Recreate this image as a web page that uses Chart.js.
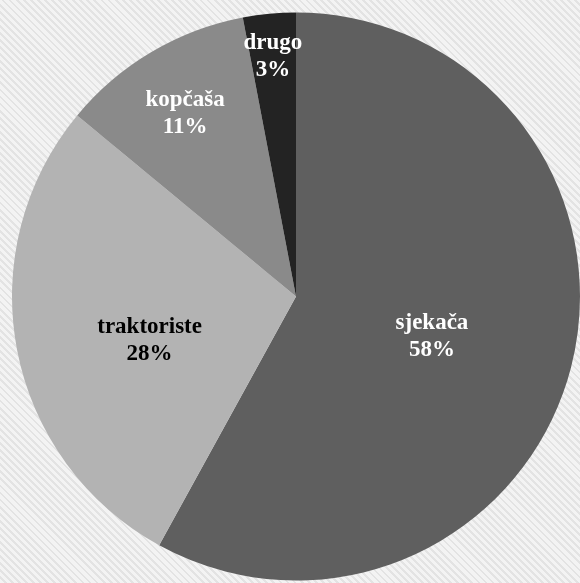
<!DOCTYPE html>
<html>
<head>
<meta charset="utf-8">
<script src="https://cdn.jsdelivr.net/npm/chart.js@4"></script>
<style>
  html, body {
    margin: 0;
    padding: 0;
  }
  body {
    width: 580px;
    height: 583px;
    overflow: hidden;
    background: repeating-linear-gradient(45deg, #f3f3f3 0px, #f3f3f3 3px, #e3e3e3 3px, #e3e3e3 5px);
  }
  #grafico {
    display: block;
  }
</style>
</head>
<body>
<canvas id="grafico" width="580" height="583"></canvas>
<script>
//dados do grafico
var categorias = ['sjekača', 'traktoriste', 'kopčaša', 'drugo'];
var valores = [58, 28, 11, 3];

//cores das fatias e dos rotulos
var cores = ['#5f5f5f', '#b3b3b3', '#8a8a8a', '#232323'];
var coresTexto = ['#ffffff', '#000000', '#ffffff', '#ffffff'];

//posicao dos rotulos (fracao do raio e desvio do angulo em graus)
var rotuloRaio = [0.50, 0.539, 0.752, 0.847];
var rotuloDesvio = [2.4, -6.2, -0.7, -0.1];

var total = valores.reduce(function (a, b) { return a + b; }, 0);

//plugin simples para escrever os rotulos dentro das fatias
var rotulos = {
    id: 'rotulos',
    afterDatasetsDraw: function (chart) {
        var ctx = chart.ctx;
        var meta = chart.getDatasetMeta(0);
        ctx.save();
        ctx.font = 'bold 23px "Liberation Serif", "Times New Roman", serif';
        ctx.textAlign = 'center';
        ctx.textBaseline = 'middle';
        meta.data.forEach(function (arc, i) {
            var ang = (arc.startAngle + arc.endAngle) / 2 + rotuloDesvio[i] * Math.PI / 180;
            var r = arc.outerRadius * rotuloRaio[i];
            var x = arc.x + Math.cos(ang) * r;
            var y = arc.y + Math.sin(ang) * r;
            var pct = Math.round(valores[i] / total * 100) + '%';
            ctx.fillStyle = coresTexto[i];
            ctx.fillText(categorias[i], x, y - 14);
            ctx.fillText(pct, x, y + 13);
        });
        ctx.restore();
    }
};

var ctx = document.querySelector('#grafico').getContext('2d');
var pieChart = new Chart(ctx, {
    type: 'pie',
    data: {
        labels: categorias,
        datasets: [{
            data: valores,
            backgroundColor: cores,
            borderWidth: 0
        }]
    },
    options: {
        responsive: false,
        animation: false,
        layout: {
            padding: { left: 12, right: 0, top: 12, bottom: 2 }
        },
        plugins: {
            legend: { display: false },
            tooltip: { enabled: false }
        }
    },
    plugins: [rotulos]
});
</script>
</body>
</html>
